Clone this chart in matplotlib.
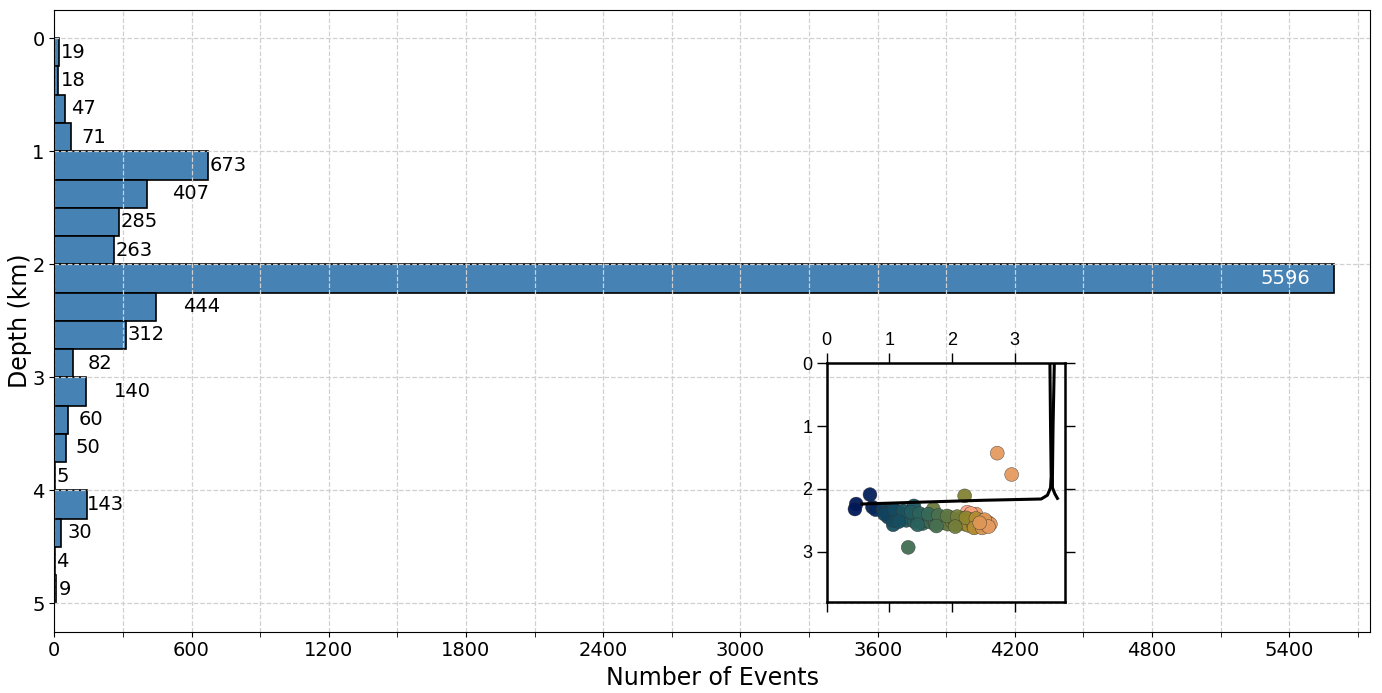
import matplotlib
matplotlib.use("Agg")
import matplotlib.pyplot as plt
import numpy as np
from matplotlib.colors import LinearSegmentedColormap
from matplotlib.ticker import MultipleLocator

# depth histogram, 0.25 km bins
bin_edges = [0.0, 0.25, 0.5, 0.75, 1.0, 1.25, 1.5, 1.75, 2.0, 2.25,
             2.5, 2.75, 3.0, 3.25, 3.5, 3.75, 4.0, 4.25, 4.5, 4.75, 5.0]
counts = [19, 18, 47, 71, 673, 407, 285, 263, 5596, 444,
          312, 82, 140, 60, 50, 5, 143, 30, 4, 9]
# label nudges (pixels) so the numbers don't collide
label_dx = [2, 2, 6, 11, 1, 25, 1, 1, -24, 27, 2, 15, 28, 11, 10, 1, 0, 6, 1, 2]

# inset: events in map view (km) and colour value
evt_x = [2.24, 2.28, 2.32, 2.38, 2.30,
         0.47, 0.45, 0.69, 0.73, 0.78, 1.39, 1.06, 1.30, 2.20, 1.70,
         2.72, 2.95,
         0.90, 0.95, 1.00, 1.02, 1.06, 1.10, 1.12, 1.15, 1.18, 1.20,
         1.24, 1.27, 1.30, 1.33, 1.37, 1.40, 1.43, 1.47, 1.50, 1.53,
         1.56, 1.60, 1.63, 1.66, 1.70, 1.73, 1.76, 1.80, 1.83, 1.86,
         1.90, 1.93, 1.96, 2.00, 2.03, 2.06, 2.10, 2.13, 2.16, 2.20,
         2.23, 2.26, 2.30, 2.33, 2.36, 2.40, 2.43, 2.46, 2.50, 2.54,
         2.57, 2.61, 0.98, 1.05,
         0.92, 1.08, 1.22, 1.35, 1.48, 1.62, 1.78, 1.92, 2.08, 2.22,
         2.38, 2.52, 1.15, 1.45, 1.75, 2.05, 2.35, 2.48, 2.58, 2.44]
evt_z = [2.37, 2.42, 2.45, 2.40, 2.39,
         2.24, 2.32, 2.09, 2.29, 2.33, 2.27, 2.57, 2.93, 2.11, 2.32,
         1.43, 1.77,
         2.33, 2.37, 2.35, 2.42, 2.38, 2.45, 2.36, 2.41, 2.48, 2.39,
         2.44, 2.50, 2.42, 2.46, 2.40, 2.52, 2.45, 2.49, 2.42, 2.55,
         2.47, 2.51, 2.44, 2.53, 2.48, 2.55, 2.45, 2.51, 2.47, 2.54,
         2.49, 2.56, 2.45, 2.52, 2.48, 2.57, 2.50, 2.54, 2.47, 2.56,
         2.51, 2.58, 2.49, 2.55, 2.60, 2.52, 2.57, 2.50, 2.55, 2.58,
         2.53, 2.56, 2.45, 2.50,
         2.40, 2.33, 2.35, 2.37, 2.39, 2.40, 2.42, 2.43, 2.44, 2.46,
         2.47, 2.49, 2.52, 2.57, 2.59, 2.60, 2.62, 2.62, 2.60, 2.54]
evt_c = [0.8, 0.78, 0.76, 0.74, 0.78,
         0.0, 0.0, 0.02, 0.03, 0.05, 0.2, 0.18, 0.35, 0.5, 0.45,
         0.72, 0.72,
         0.12, 0.13, 0.14, 0.15, 0.16, 0.17, 0.17, 0.18, 0.19, 0.19,
         0.2, 0.21, 0.22, 0.23, 0.24, 0.25, 0.26, 0.27, 0.28, 0.29,
         0.3, 0.31, 0.32, 0.33, 0.34, 0.36, 0.37, 0.38, 0.4, 0.41,
         0.42, 0.43, 0.45, 0.46, 0.47, 0.48, 0.5, 0.51, 0.52, 0.54,
         0.55, 0.57, 0.59, 0.62, 0.64, 0.66, 0.67, 0.68, 0.69, 0.7,
         0.71, 0.72, 0.15, 0.17,
         0.13, 0.16, 0.2, 0.24, 0.28, 0.32, 0.37, 0.42, 0.47, 0.53,
         0.6, 0.7, 0.18, 0.27, 0.36, 0.47, 0.6, 0.68, 0.72, 0.7]

# well trajectories
wellA_x = [3.56, 3.57, 3.58, 3.57, 3.52, 3.42, 2.50, 1.50, 0.56]
wellA_z = [0.00, 1.00, 1.80, 1.98, 2.10, 2.16, 2.18, 2.21, 2.24]
wellB_x = [3.63, 3.61, 3.60, 3.60, 3.64, 3.68]
wellB_z = [0.00, 1.00, 1.80, 1.98, 2.08, 2.15]

batlow = LinearSegmentedColormap.from_list("batlow_like", [
    "#011959", "#0f3e5e", "#1c5a62", "#3c6d56", "#687b3e",
    "#9d892b", "#d29343", "#f8a17b", "#fdb7bc", "#faccfa"])

fig = plt.figure(figsize=(13.82, 6.93), dpi=100)
ax = fig.add_axes([0.0393, 0.0885, 0.952, 0.8971])

heights = np.diff(bin_edges)
ax.barh(bin_edges[:-1], counts, height=heights, align='edge',
        color='steelblue', edgecolor='black', linewidth=1.2)

ax.set_xlim(0, max(counts) * 1.028)
ax.set_ylim(5.25, -0.25)
ax.xaxis.set_major_locator(MultipleLocator(600))
ax.xaxis.set_minor_locator(MultipleLocator(300))
ax.yaxis.set_major_locator(MultipleLocator(1))
ax.tick_params(axis='x', which='minor', length=3.5)
ax.tick_params(labelsize=14)
ax.grid(True, which='both', linestyle='--', color='#d0d0d0', linewidth=0.9)
ax.set_xlabel('Number of Events', fontsize=17, labelpad=4)
ax.set_ylabel('Depth (km)', fontsize=17, labelpad=0)

for i in range(len(counts)):
    yc = bin_edges[i] + heights[i] / 2
    if counts[i] == max(counts):
        ax.annotate(str(counts[i]), (counts[i], yc), xytext=(label_dx[i] * 0.72, 0),
                    textcoords='offset points', ha='right', va='center',
                    fontsize=14, color='white')
    else:
        ax.annotate(str(counts[i]), (counts[i], yc), xytext=(label_dx[i] * 0.72, 0),
                    textcoords='offset points', ha='left', va='center',
                    fontsize=14, color='black')

# inset map
ins = fig.add_axes([0.5982, 0.1313, 0.1724, 0.3444])
ins.set_facecolor('none')
ins.scatter(evt_x, evt_z, c=evt_c, cmap=batlow, vmin=0, vmax=1, s=100,
            edgecolors='#333333', linewidths=0.3, alpha=0.95, zorder=3)
ins.plot(wellA_x, wellA_z, color='black', lw=2.2, zorder=4)
ins.plot(wellB_x, wellB_z, color='black', lw=2.2, zorder=4)
ins.set_xlim(0, 3.8)
ins.set_ylim(3.8, 0)
ins.set_xticks([0, 1, 2, 3])
ins.set_yticks([0, 1, 2, 3])
ins.tick_params(top=True, right=True, bottom=True, left=True,
                labeltop=True, labelbottom=False, labelleft=True,
                labelright=False, direction='out', length=7, width=1,
                labelsize=13)
for lab in ins.get_xticklabels() + ins.get_yticklabels():
    lab.set_family('Liberation Sans')
for sp in ins.spines.values():
    sp.set_linewidth(1.8)

fig.savefig('out.png', dpi=100)
